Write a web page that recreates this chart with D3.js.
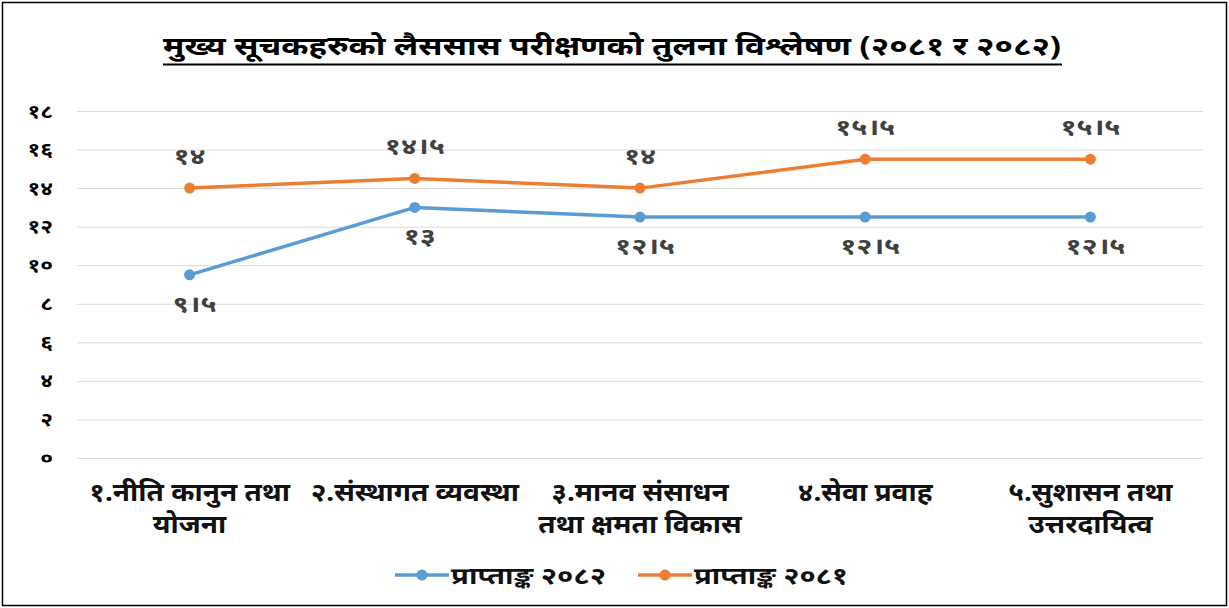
<!DOCTYPE html>
<html>
<head>
<meta charset="utf-8">
<script src="https://cdn.jsdelivr.net/npm/d3@7"></script>
<style>
  body { margin: 0; background: #fff; }
  svg { display: block; font-family: 'Noto Sans', 'Noto Sans Devanagari', sans-serif; }
</style>
</head>
<body>
<svg id="chart" width="1229" height="608"></svg>
<script>
const title = 'मुख्य सूचकहरुको लैससास परीक्षणको तुलना विश्लेषण (२०८१ र २०८२)'
const categories = [
	['१.नीति कानुन तथा', 'योजना'],
	['२.संस्थागत व्यवस्था'],
	['३.मानव संसाधन', 'तथा क्षमता विकास'],
	['४.सेवा प्रवाह'],
	['५.सुशासन तथा', 'उत्तरदायित्व'],
]
const seriesNames = ['प्राप्ताङ्क २०८२', 'प्राप्ताङ्क २०८१']
const values2082 = [9.5, 13, 12.5, 12.5, 12.5]
const values2081 = [14, 14.5, 14, 15.5, 15.5]
const yTicks = [0, 2, 4, 6, 8, 10, 12, 14, 16, 18]
const colors = ['#5B9BD5', '#ED7D31']

const nepDigits = '०१२३४५६७८९'
const toNep = (n) => String(n).replace(/[0-9]/g, (c) => nepDigits[+c]).replace('.', '।')

// widen text a little, the source font is broader than what we have
const stretch = (sel, k) => sel.each(function () {
	const w = this.getComputedTextLength()
	d3.select(this).attr('textLength', w * k).attr('lengthAdjust', 'spacingAndGlyphs')
})

const svg = d3.select('#chart')
const margin = { top: 111, left: 77, right: 26, bottom: 150 }
const width = 1229
const height = 608
const innerW = width - margin.left - margin.right
const innerH = height - margin.top - margin.bottom

// frame
svg.append('rect')
	.attr('x', 2.5).attr('y', 2.5)
	.attr('width', width - 5).attr('height', height - 5)
	.style('fill', 'none').style('stroke', '#000').style('stroke-width', 1.5)

// title
svg.append('text')
	.attr('x', 163).attr('y', 55)
	.attr('textLength', 898).attr('lengthAdjust', 'spacingAndGlyphs')
	.style('font-size', '26px').style('font-weight', 'bold')
	.style('fill', '#000')
	.text(title)
svg.append('line')
	.attr('x1', 163).attr('x2', 1062).attr('y1', 64.5).attr('y2', 64.5)
	.style('stroke', '#000').style('stroke-width', 2)

const x = d3.scaleBand().domain(d3.range(categories.length)).range([0, innerW])
const y = d3.scaleLinear().domain([0, 18]).range([innerH, 0])
const cx = (_, i) => x(i) + x.bandwidth() / 2

const g = svg.append('g').attr('transform', `translate(${margin.left}, ${margin.top})`)

// grid + y labels
const yAxis = g.append('g')
	.call(d3.axisLeft(y).tickValues(yTicks).tickSize(-innerW).tickPadding(24).tickFormat(toNep))
yAxis.select('.domain').remove()
yAxis.selectAll('line').style('stroke', '#d9d9d9').style('stroke-width', 1)
yAxis.selectAll('text')
	.style('font-size', '19px').style('font-weight', 'bold').style('fill', '#000')
	.style('font-family', "'Noto Sans', sans-serif")
stretch(yAxis.selectAll('text'), 1.2)

// x labels
const xLabels = g.append('g').attr('transform', `translate(0, ${innerH})`)
	.selectAll('text').data(categories).enter()
	.append('text')
	.attr('x', cx)
	.attr('y', 43)
	.style('text-anchor', 'middle')
	.style('font-size', '25px').style('font-weight', 'bold').style('fill', '#111')
xLabels.selectAll('tspan').data((d) => d).enter()
	.append('tspan')
	.attr('x', function () { return d3.select(this.parentNode).attr('x') })
	.attr('dy', (_, i) => i === 0 ? 0 : 32)
	.text((d) => d)
stretch(xLabels.selectAll('tspan'), 1.12)

const line = d3.line().x(cx).y((d) => y(d))
const series = [values2082, values2081]

series.forEach((vals, s) => {
	g.append('path').datum(vals)
		.attr('d', line)
		.style('fill', 'none').style('stroke', colors[s]).style('stroke-width', 3.5)
		.style('stroke-linejoin', 'round')
	g.selectAll(`circle.s${s}`).data(vals).enter()
		.append('circle').classed(`s${s}`, true)
		.attr('cx', cx)
		.attr('cy', (d) => y(d))
		.attr('r', 5.5)
		.style('fill', colors[s])
	const labels = g.selectAll(`text.s${s}`).data(vals).enter()
		.append('text').classed(`s${s}`, true)
		.attr('x', (d, i) => cx(d, i) + (s === 0 ? 5 : 0))
		.attr('y', (d) => y(d) + (s === 0 ? 37 : -24))
		.style('text-anchor', 'middle')
		.style('font-size', '23px').style('font-weight', 'bold').style('fill', '#404040')
		.text((d) => toNep(d))
	stretch(labels, 1.25)
})

// legend
const legend = svg.append('g').attr('transform', 'translate(0, 575)')
const legendX = [395, 638]
seriesNames.forEach((name, s) => {
	const lg = legend.append('g').attr('transform', `translate(${legendX[s]}, 0)`)
	lg.append('line').attr('x1', 0).attr('x2', 54)
		.style('stroke', colors[s]).style('stroke-width', 3.5)
	lg.append('circle').attr('cx', 27).attr('r', 5.5).style('fill', colors[s])
	lg.append('text').attr('x', 56).attr('y', 9)
		.attr('textLength', s === 0 ? 155 : 154).attr('lengthAdjust', 'spacingAndGlyphs')
		.style('font-size', '24px').style('font-weight', 'bold').style('fill', '#111')
		.text(name)
})
</script>
</body>
</html>
